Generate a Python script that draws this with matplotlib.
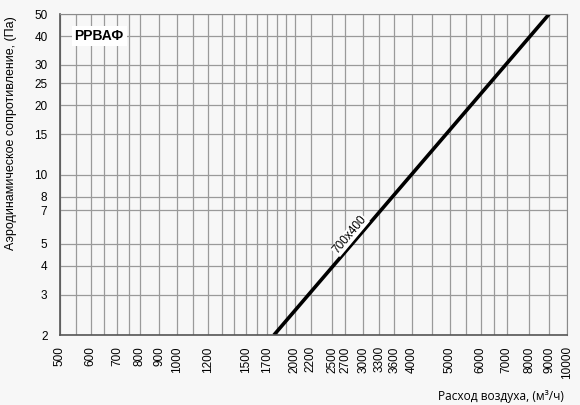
import matplotlib
matplotlib.use("Agg")
import matplotlib.pyplot as plt
from matplotlib.ticker import FixedLocator, NullFormatter

# air flow (m3/h) vs pressure drop (Pa) for РРВАФ 700x400
flow = [1770, 9000]
pressure = [2, 50]
series_name = "700x400"
model = "РРВАФ"

x_ticks = [500, 600, 700, 800, 900, 1000, 1200, 1500, 1700, 2000, 2200, 2500, 2700,
           3000, 3300, 3600, 4000, 5000, 6000, 7000, 8000, 9000, 10000]
x_minor = [550, 650, 750, 1100, 1300, 1400, 1600, 1800, 1900, 4500, 5500, 6500]
y_ticks = [2, 3, 4, 5, 7, 8, 10, 15, 20, 25, 30, 40, 50]

bg = "#f7f7f7"
fig = plt.figure(figsize=(5.8, 4.05), dpi=100, facecolor=bg)
ax = fig.add_axes([0.1034, 0.1728, 0.8742, 0.7926], facecolor=bg)

ax.set_xscale("log")
ax.set_yscale("log")
ax.set_xlim(500, 10000)
ax.set_ylim(2, 50)

ax.xaxis.set_major_locator(FixedLocator(x_ticks))
ax.xaxis.set_minor_locator(FixedLocator(x_minor))
ax.xaxis.set_minor_formatter(NullFormatter())
ax.set_xticklabels([str(v) for v in x_ticks], rotation=90)
ax.yaxis.set_major_locator(FixedLocator(y_ticks))
ax.yaxis.set_minor_locator(FixedLocator([]))
ax.yaxis.set_minor_formatter(NullFormatter())
ax.set_yticklabels([str(v) for v in y_ticks])

ax.grid(True, which="both", color="#9a9a9a", linewidth=0.9)
ax.tick_params(which="both", length=0)
ax.tick_params(axis="x", pad=8, labelsize=8.5)
ax.tick_params(axis="y", pad=9, labelsize=8.5)
for lbl in ax.get_xticklabels() + ax.get_yticklabels():
    lbl.set_family("Liberation Sans")

for side in ["top", "right"]:
    ax.spines[side].set_color("#8a8a8a")
for side in ["left", "bottom"]:
    ax.spines[side].set_color("#555555")
    ax.spines[side].set_linewidth(1.2)

ax.plot(flow, pressure, color="black", linewidth=2.6, solid_capstyle="butt")

ax.text(2774, 5.45, series_name, rotation=50, ha="center", va="center",
        rotation_mode="anchor", fontsize=8.5, family="Liberation Sans",
        bbox=dict(facecolor="white", edgecolor="none", pad=0.3))

ax.text(545, 40, model, ha="left", va="center", fontsize=10, fontweight="bold",
        family="Liberation Sans",
        bbox=dict(facecolor="white", edgecolor="none", pad=2))

ax.set_ylabel("Аэродинамическое сопротивление, (Па)", fontsize=9,
              family="Liberation Sans")
ax.yaxis.set_label_coords(-0.085, 0.63)

fig.text(0.972, 0.0123, "Расход воздуха, (м³/ч)", ha="right", va="baseline",
         fontsize=8.6, family="Open Sans")

fig.savefig("out.png", dpi=100, facecolor=bg)
